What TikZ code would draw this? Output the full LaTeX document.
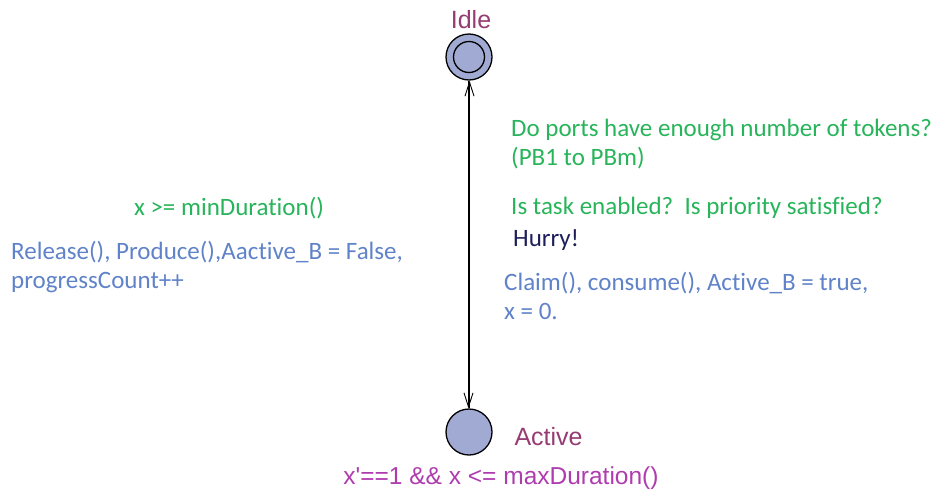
\documentclass[tikz,border=0pt]{standalone}
\usepackage{fontspec}
\setmainfont{Carlito}[Ligatures={NoCommon}]
\newfontfamily\locfont{Liberation Sans}
\usetikzlibrary{arrows.meta}
\definecolor{guardgreen}{RGB}{40,180,90}
\definecolor{updblue}{RGB}{95,130,200}
\definecolor{locpurple}{RGB}{150,60,115}
\definecolor{invmagenta}{RGB}{175,60,175}
\definecolor{syncnavy}{RGB}{30,30,90}
\definecolor{locfill}{RGB}{160,170,210}
\begin{document}
\begin{tikzpicture}[x=1pt,y=-1pt,
  loc/.style={circle,draw=black,line width=1.3pt,fill=locfill,minimum size=46pt,inner sep=0pt},
  inner/.style={circle,draw=black,line width=1.3pt,minimum size=31pt,inner sep=0pt},
  locname/.style={font=\locfont\fontsize{25}{28}\selectfont,text=locpurple},
  lbl/.style={font=\fontsize{25}{29}\selectfont,align=left,inner sep=0pt},
  edge/.style={line width=0.9pt,-{Straight Barb[length=14pt,width=9pt]}}]
  \useasboundingbox (0,0) rectangle (940,493);
  % locations
  \node[loc] (idle) at (469,57) {};
  \node[inner] (idlein) at (idle.center) {};
  \node[loc] (active) at (469,432) {};
  \node[locname] (idlename) at (471,20) {Idle};
  \node[locname,anchor=west] (activename) at (511,437) {Active};
  \node[font=\locfont\fontsize{24.5}{28}\selectfont,text=invmagenta] (inv) at (501,478) {x'==1 \&\& x <= maxDuration()};
  % edges
  \draw[edge] ([xshift=-0.5pt]idle.south) -- ([xshift=-0.5pt]active.north);
  \draw[edge] ([xshift=0.5pt]active.north) -- ([xshift=0.5pt]idle.south);
  % labels of the entering edge
  \node[lbl,anchor=west,text=guardgreen] (g1) at (511,144) {Do ports have enough number of tokens?\\(PB1 to PBm)};
  \node[lbl,anchor=west,text=guardgreen] (g2) at (511,208) {Is task enabled?\ \ Is priority satisfied?};
  \node[lbl,anchor=west,text=syncnavy] (sync) at (513,240) {Hurry!};
  \node[lbl,anchor=west,text=updblue] (u1) at (504,296) {Claim(), consume(), Active\_B = true,\\x = 0.};
  % labels of the leaving edge
  \node[lbl,text=guardgreen] (g3) at (229,208) {x >= minDuration()};
  \node[lbl,anchor=west,text=updblue] (u2) at (11,267) {Release(), Produce(),Aactive\_B = False,\\progressCount++};
\end{tikzpicture}
\end{document}
